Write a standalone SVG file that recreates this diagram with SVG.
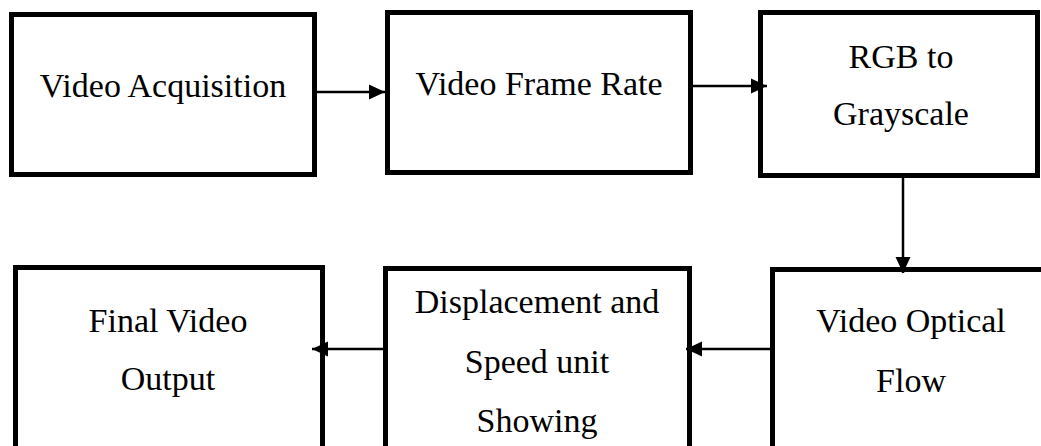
<svg xmlns="http://www.w3.org/2000/svg" width="1041" height="446" viewBox="0 0 1041 446">
<style>
.box{fill:#fff;stroke:#000;stroke-width:5}
.lbl{font-family:"Liberation Serif","Times New Roman",serif;font-size:34px;fill:#000;text-anchor:middle}
.con{stroke:#000;stroke-width:2.5;fill:none}
</style>
<defs>
<marker id="ah" markerUnits="userSpaceOnUse" markerWidth="16" markerHeight="16" viewBox="0 0 16 16" refX="16" refY="8" orient="auto">
<path d="M0,0.5 L16,8 L0,15.5 Z" fill="#000"/>
</marker>
</defs>
<rect width="1041" height="446" fill="#fff"/>
<g id="n1">
<rect class="box" x="11.5" y="14.5" width="303" height="160"/>
<text class="lbl" x="163" y="97">Video Acquisition</text>
</g>
<g id="n2">
<rect class="box" x="387.5" y="12.5" width="303" height="160"/>
<text class="lbl" x="539" y="95">Video Frame Rate</text>
</g>
<g id="n3">
<rect class="box" x="760.5" y="12.5" width="277" height="163"/>
<text class="lbl" x="901" y="68">RGB to</text>
<text class="lbl" x="901" y="125">Grayscale</text>
</g>
<g id="n4">
<rect class="box" x="15.5" y="267.5" width="307" height="200"/>
<text class="lbl" x="168" y="332">Final Video</text>
<text class="lbl" x="168" y="390">Output</text>
</g>
<g id="n5">
<rect class="box" x="385.5" y="268.5" width="304" height="200"/>
<text class="lbl" x="537" y="313">Displacement and</text>
<text class="lbl" x="537" y="373">Speed unit</text>
<text class="lbl" x="537" y="432">Showing</text>
</g>
<g id="n6">
<rect class="box" x="772.5" y="269.5" width="300" height="200"/>
<text class="lbl" x="911" y="332">Video Optical</text>
<text class="lbl" x="911" y="392">Flow</text>
</g>
<g id="connectors">
<line class="con" x1="317" y1="92" x2="385" y2="92" marker-end="url(#ah)"/>
<line class="con" x1="693" y1="86" x2="767" y2="86" marker-end="url(#ah)"/>
<line class="con" x1="903" y1="178" x2="903" y2="273" marker-end="url(#ah)"/>
<line class="con" x1="770" y1="349" x2="686" y2="349" marker-end="url(#ah)"/>
<line class="con" x1="383" y1="349" x2="312" y2="349" marker-end="url(#ah)"/>
</g>
</svg>
